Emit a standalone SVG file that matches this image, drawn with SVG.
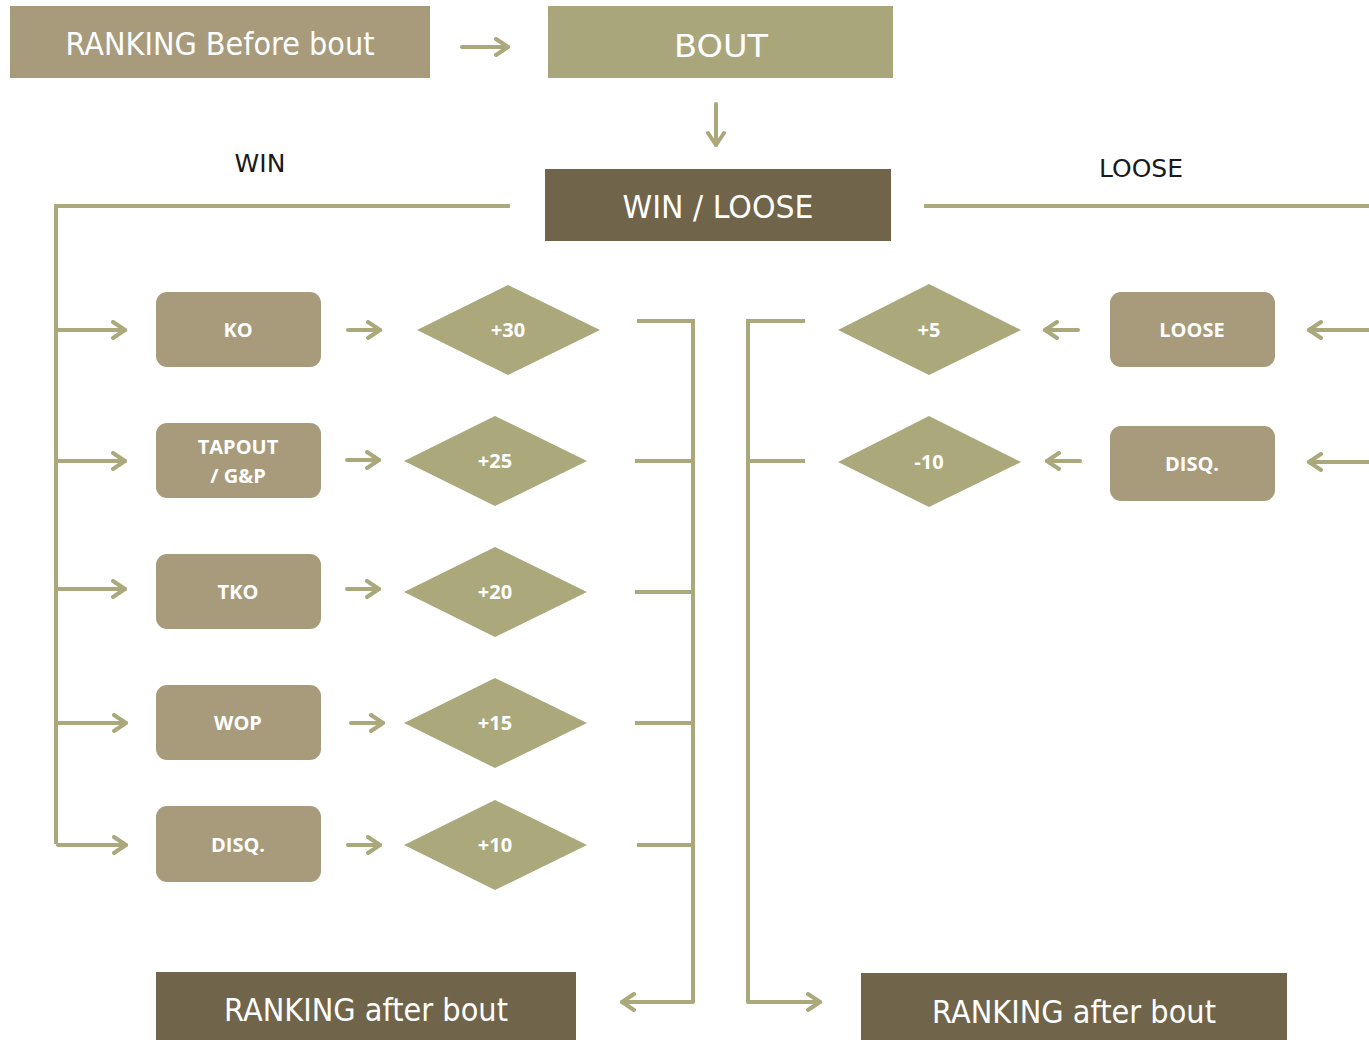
<svg xmlns="http://www.w3.org/2000/svg" width="1369" height="1040" viewBox="0 0 1369 1040">
<defs>
<style>
.ln{fill:none;stroke:#aba87c;stroke-width:4;stroke-linecap:butt;stroke-linejoin:miter}
.ar{fill:none;stroke:#aba87c;stroke-width:4;stroke-linecap:round;stroke-linejoin:round}
.box{fill:#a79b7c}
.dark{fill:#70654a}
.olive{fill:#aaa67c}
.dia{fill:#aba87c}
.big{font-family:"DejaVu Sans",sans-serif;font-size:32px;fill:#ffffff;text-anchor:middle}
.lbl{font-family:"DejaVu Sans",sans-serif;font-size:25px;fill:#1a1a1a;text-anchor:middle}
.sm{font-family:"Open Sans",sans-serif;font-weight:bold;font-size:20px;fill:#ffffff;text-anchor:middle}
</style>
<marker id="ah" viewBox="0 0 20 20" refX="16" refY="10" markerWidth="20" markerHeight="20" markerUnits="userSpaceOnUse" orient="auto">
<path d="M4,2 L16,10 L4,18" fill="none" stroke="#aba87c" stroke-width="4" stroke-linecap="round" stroke-linejoin="round"/>
</marker>
</defs>

<g id="connectors">
<path class="ar" d="M462,47 H508" marker-end="url(#ah)"/>
<path class="ar" d="M716,104 V145" marker-end="url(#ah)"/>
<path class="ln" d="M510,206 H56 V844"/>
<path class="ln" d="M924,206 H1369"/>
<path class="ar" d="M58,330 H125" marker-end="url(#ah)"/>
<path class="ar" d="M58,461 H125" marker-end="url(#ah)"/>
<path class="ar" d="M58,589 H125" marker-end="url(#ah)"/>
<path class="ar" d="M58,723 H126" marker-end="url(#ah)"/>
<path class="ar" d="M58,845 H126" marker-end="url(#ah)"/>
<path class="ar" d="M348,330 H380" marker-end="url(#ah)"/>
<path class="ar" d="M347,460 H379" marker-end="url(#ah)"/>
<path class="ar" d="M347,589 H379" marker-end="url(#ah)"/>
<path class="ar" d="M351,723 H383" marker-end="url(#ah)"/>
<path class="ar" d="M348,845 H380" marker-end="url(#ah)"/>
<path class="ln" d="M637,321 H693 V1002"/>
<path class="ln" d="M635,461 H693 M635,592 H693 M635,723 H693 M637,845 H693"/>
<path class="ar" d="M693,1002 H622" marker-end="url(#ah)"/>
<path class="ln" d="M805,321 H748 V1002"/>
<path class="ln" d="M805,461 H748"/>
<path class="ar" d="M748,1002 H820" marker-end="url(#ah)"/>
<path class="ar" d="M1078,330 H1045" marker-end="url(#ah)"/>
<path class="ar" d="M1080,461 H1047" marker-end="url(#ah)"/>
<path class="ar" d="M1369,330 H1309" marker-end="url(#ah)"/>
<path class="ar" d="M1369,462 H1309" marker-end="url(#ah)"/>
</g>

<g id="ranking-before"><rect class="box" x="10" y="6" width="420" height="72"/><text class="big" x="220" y="55" textLength="309" lengthAdjust="spacingAndGlyphs">RANKING Before bout</text></g>
<g id="bout"><rect class="olive" x="548" y="6" width="345" height="72"/><text class="big" x="721" y="57" font-size="38" textLength="94" lengthAdjust="spacingAndGlyphs">BOUT</text></g>
<g id="win-loose"><rect class="dark" x="545" y="169" width="346" height="72"/><text class="big" x="718" y="218" textLength="191" lengthAdjust="spacingAndGlyphs">WIN / LOOSE</text></g>
<g id="win-label"><text class="lbl" x="260" y="172">WIN</text></g>
<g id="loose-label"><text class="lbl" x="1141" y="177">LOOSE</text></g>

<g id="ko"><rect class="box" x="156" y="292" width="165" height="75" rx="11"/><text class="sm" x="238" y="337">KO</text></g>
<g id="tapout"><rect class="box" x="156" y="423" width="165" height="75" rx="11"/><text class="sm" x="238" y="454">TAPOUT</text><text class="sm" x="238" y="483">/ G&amp;P</text></g>
<g id="tko"><rect class="box" x="156" y="554" width="165" height="75" rx="11"/><text class="sm" x="238" y="599">TKO</text></g>
<g id="wop"><rect class="box" x="156" y="685" width="165" height="75" rx="11"/><text class="sm" x="238" y="730">WOP</text></g>
<g id="disq-win"><rect class="box" x="156" y="806" width="165" height="76" rx="11"/><text class="sm" x="238" y="852">DISQ.</text></g>

<g id="d30"><polygon class="dia" points="417,330 508,285 600,330 508,375"/><text class="sm" x="508" y="337">+30</text></g>
<g id="d25"><polygon class="dia" points="404,461 495,416 587,461 495,506"/><text class="sm" x="495" y="468">+25</text></g>
<g id="d20"><polygon class="dia" points="404,592 495,547 587,592 495,637"/><text class="sm" x="495" y="599">+20</text></g>
<g id="d15"><polygon class="dia" points="404,723 495,678 587,723 495,768"/><text class="sm" x="495" y="730">+15</text></g>
<g id="d10"><polygon class="dia" points="404,845 495,800 587,845 495,890"/><text class="sm" x="495" y="852">+10</text></g>

<g id="d5"><polygon class="dia" points="838,330 929,284 1021,330 929,375"/><text class="sm" x="929" y="337">+5</text></g>
<g id="dm10"><polygon class="dia" points="838,462 929,416 1021,462 929,507"/><text class="sm" x="929" y="469">-10</text></g>

<g id="loose"><rect class="box" x="1110" y="292" width="165" height="75" rx="11"/><text class="sm" x="1192" y="337">LOOSE</text></g>
<g id="disq-loose"><rect class="box" x="1110" y="426" width="165" height="75" rx="11"/><text class="sm" x="1192" y="471">DISQ.</text></g>

<g id="ranking-after-left"><rect class="dark" x="156" y="972" width="420" height="68"/><text class="big" x="366" y="1021" textLength="284" lengthAdjust="spacingAndGlyphs">RANKING after bout</text></g>
<g id="ranking-after-right"><rect class="dark" x="861" y="973" width="426" height="67"/><text class="big" x="1074" y="1023" textLength="284" lengthAdjust="spacingAndGlyphs">RANKING after bout</text></g>
</svg>
